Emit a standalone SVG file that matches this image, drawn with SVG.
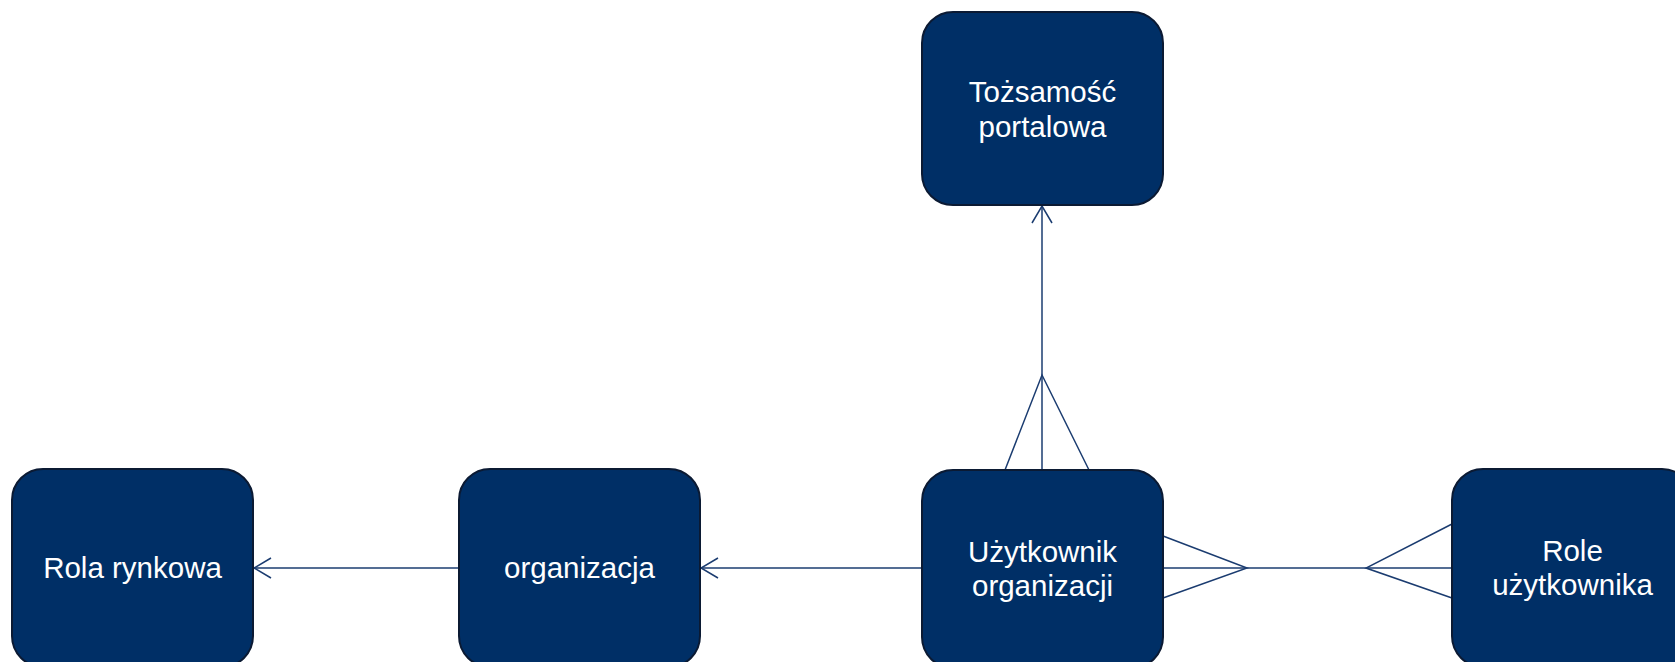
<svg xmlns="http://www.w3.org/2000/svg" width="1675" height="662" viewBox="0 0 1675 662">
<style>
.box{fill:#002F66;stroke:#0B1A33;stroke-width:2}
.lbl{fill:#FFFFFF;font-family:"Liberation Sans",Arial,sans-serif;font-size:29.5px;text-anchor:middle}
.con{stroke:#1B3C70;stroke-width:1.5;fill:none}
</style>
<defs>
<marker id="open" viewBox="0 0 20 22" refX="19" refY="11" markerWidth="20" markerHeight="22" markerUnits="userSpaceOnUse" orient="auto">
<path d="M2,1 L19,11 L2,21" fill="none" stroke="#1B3C70" stroke-width="1.5"/>
</marker>
</defs>
<rect width="1675" height="662" fill="#FFFFFF"/>
<g id="connectors">
<line class="con" x1="459" y1="568" x2="254" y2="568" marker-end="url(#open)"/>
<line class="con" x1="922" y1="568" x2="701" y2="568" marker-end="url(#open)"/>
<line class="con" x1="1042" y1="470" x2="1042" y2="206" marker-end="url(#open)"/>
<polyline class="con" points="1005,470 1042,375 1089,470"/>
<line class="con" x1="1163" y1="568" x2="1452" y2="568"/>
<polyline class="con" points="1163,536 1247,568 1163,598"/>
<polyline class="con" points="1452,524 1366,568 1452,598"/>
</g>
<g id="tozsamosc">
<rect class="box" x="922" y="12" width="241" height="193" rx="31"/>
<text class="lbl" x="1042.5" y="102">Tożsamość</text>
<text class="lbl" x="1042.5" y="137">portalowa</text>
</g>
<g id="rola">
<rect class="box" x="12" y="469" width="241" height="198" rx="31"/>
<text class="lbl" x="132.5" y="578">Rola rynkowa</text>
</g>
<g id="organizacja">
<rect class="box" x="459" y="469" width="241" height="198" rx="31"/>
<text class="lbl" x="579.5" y="578">organizacja</text>
</g>
<g id="uzytkownik">
<rect class="box" x="922" y="470" width="241" height="198" rx="31"/>
<text class="lbl" x="1042.5" y="562">Użytkownik</text>
<text class="lbl" x="1042.5" y="596">organizacji</text>
</g>
<g id="role">
<rect class="box" x="1452" y="469" width="241" height="198" rx="31"/>
<text class="lbl" x="1572.5" y="561">Role</text>
<text class="lbl" x="1572.5" y="595">użytkownika</text>
</g>
</svg>
